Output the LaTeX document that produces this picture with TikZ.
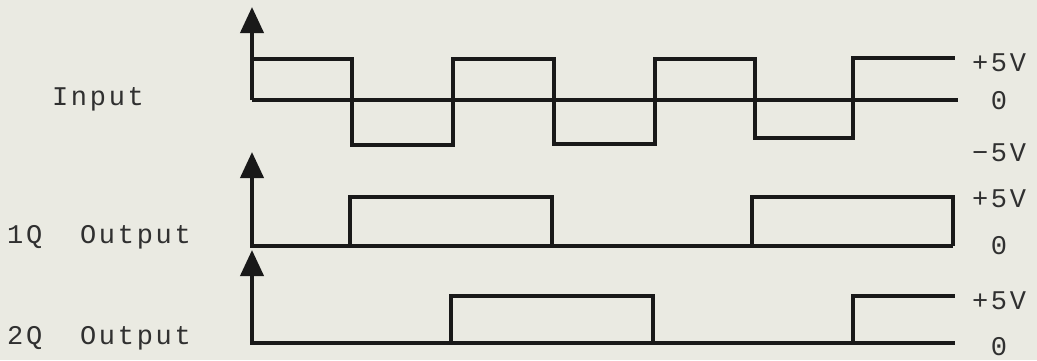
\documentclass[tikz,border=0pt]{standalone}
\usepackage{fontspec}
\newfontfamily\sigfont{Liberation Mono}[LetterSpace=10]
\definecolor{paper}{RGB}{234,234,226}
\definecolor{ink}{RGB}{25,25,25}
\usetikzlibrary{arrows.meta}

\begin{document}
\begin{tikzpicture}[x=50pt, y=-50pt,
  wave/.style={draw=ink, line width=2pt, line join=miter},
  yaxis/.style={draw=ink, line width=2pt, -{Triangle[length=13pt,width=11.5pt]}},
  lvl/.style={font=\sigfont\fontsize{13.5}{15}\selectfont, text=ink!90, inner sep=0pt},
  signame/.style={font=\sigfont\fontsize{13.5}{15}\selectfont, text=ink!90, inner sep=0pt}
]
  %% Paper
  \fill[paper] (0,0) rectangle (10.37,3.60);
  \useasboundingbox (0,0) rectangle (10.37,3.60);

  %% Input: +5V / -5V square wave
  \node[signame] (nin) at (0.98,0.99) {Input};
  \draw[yaxis] (2.52,1.00) -- (2.52,0.07);
  \draw[wave] (2.52,1.00) -- (9.58,1.00);
  \draw[wave] (2.52,0.59) -- (3.52,0.59) -- (3.52,1.45) -- (4.53,1.45) -- (4.53,0.59)
    -- (5.54,0.59) -- (5.54,1.44) -- (6.55,1.44) -- (6.55,0.59) -- (7.55,0.59)
    -- (7.55,1.38) -- (8.53,1.38) -- (8.53,0.58) -- (9.55,0.58);
  \node[lvl] (inhi) at (9.99,0.63) {+5V};
  \node[lvl] (inzero) at (9.99,1.01) {0};
  \node[lvl] (inlo) at (9.99,1.53) {−5V};

  %% 1Q output
  \node[signame] (nq1) at (0.99,2.37) {1Q~~Output};
  \draw[yaxis] (2.52,2.46) -- (2.52,1.52);
  \draw[wave] (2.50,2.46) -- (9.53,2.46);
  \draw[wave] (3.50,2.46) -- (3.50,1.97) -- (5.52,1.97) -- (5.52,2.46);
  \draw[wave] (7.52,2.46) -- (7.52,1.97) -- (9.53,1.97) -- (9.53,2.46);
  \node[lvl] (q1hi) at (9.99,1.99) {+5V};
  \node[lvl] (q1zero) at (9.99,2.46) {0};

  %% 2Q output
  \node[signame] (nq2) at (0.99,3.38) {2Q~~Output};
  \draw[yaxis] (2.52,3.43) -- (2.52,2.50);
  \draw[wave] (2.50,3.43) -- (9.55,3.43);
  \draw[wave] (4.51,3.43) -- (4.51,2.96) -- (6.53,2.96) -- (6.53,3.43);
  \draw[wave] (8.53,3.43) -- (8.53,2.96) -- (9.55,2.96);
  \node[lvl] (q2hi) at (9.99,3.01) {+5V};
  \node[lvl] (q2zero) at (9.99,3.47) {0};
\end{tikzpicture}
\end{document}
